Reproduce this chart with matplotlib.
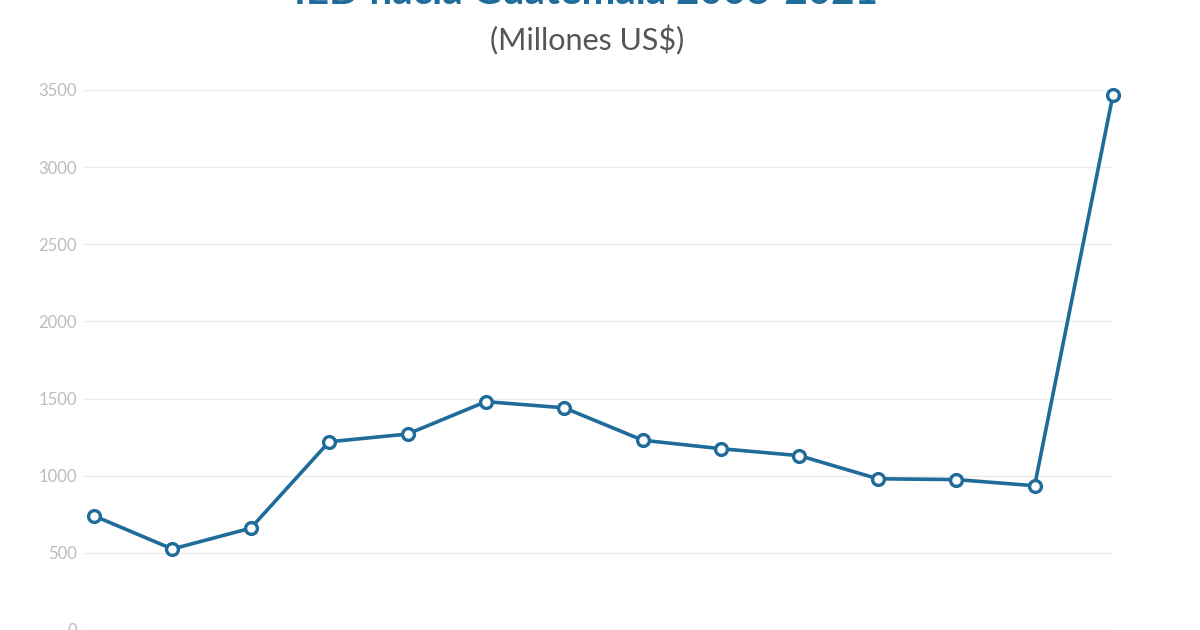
import numpy as np
import matplotlib.pyplot as plt

years = [2008, 2009, 2010, 2011, 2012, 2013, 2014, 2015, 2016, 2017, 2018, 2019, 2020, 2021]
ied = [740, 525, 660, 1220, 1270, 1480, 1440, 1230, 1175, 1130, 980, 975, 935, 3470]
yticks = [0, 500, 1000, 1500, 2000, 2500, 3000, 3500]

blue = '#1f6b99'

plt.rcParams['font.family'] = ['Lato', 'DejaVu Sans']

fig = plt.figure(figsize=(12, 6.3), dpi=100)
ax = fig.add_axes([83 / 1200, 0, (1113 - 83) / 1200, (630 - 90) / 630])

ax.plot(years, ied, '-o', color=blue, lw=2.6, ms=8.5, mfc='white', mec=blue, mew=2.4,
        clip_on=False, zorder=3)

ax.set_xlim(2007.86, 2021)
ax.set_ylim(0, 3500)
ax.set_yticks(yticks)
ax.set_xticks([])
ax.grid(axis='y', color='#ececec', lw=1)
ax.tick_params(axis='y', length=0, pad=4.5, labelsize=12, labelcolor='#bcbcbc')
for s in ax.spines.values():
    s.set_visible(False)

# title is cut off by the top edge, as in the original
fig.text(586 / 1200, 1 - 11 / 630, 'IED hacia Guatemala 2008-2021', ha='center', va='bottom',
         fontsize=29, fontweight='bold', color=blue)
fig.text(587 / 1200, 1 - 40 / 630, '(Millones US$)', ha='center', va='center',
         fontsize=22, color='#555555')

plt.savefig('out.png', dpi=100)
